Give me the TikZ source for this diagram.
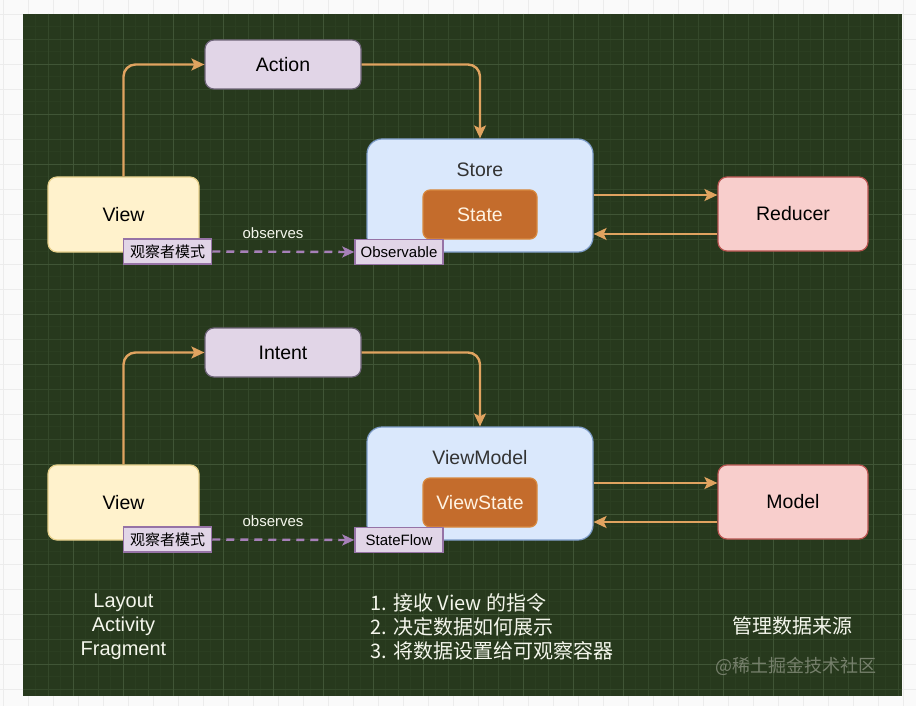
\documentclass[tikz,border=0pt]{standalone}
\usepackage{fontspec}
\setmainfont{Liberation Sans}
\newfontfamily\cjk{Noto Sans CJK SC}
\usepackage{xcolor}
\usepackage{tikz}
\usetikzlibrary{arrows.meta, positioning}

\definecolor{pagebg}{RGB}{250,250,250}
\definecolor{pagegrid}{RGB}{236,236,236}
\definecolor{canvasbg}{RGB}{39,57,29}
\definecolor{gridfine}{RGB}{43,62,33}
\definecolor{gridmid}{RGB}{52,72,42}
\definecolor{gridmajor}{RGB}{64,85,54}
\definecolor{actfill}{HTML}{E1D5E7}
\definecolor{actline}{HTML}{6E6478}
\definecolor{viewfill}{HTML}{FFF2CC}
\definecolor{viewline}{HTML}{E6CF8A}
\definecolor{storefill}{HTML}{DAE8FC}
\definecolor{storeline}{HTML}{7D9CC8}
\definecolor{statefill}{RGB}{196,108,44}
\definecolor{stateline}{RGB}{216,138,64}
\definecolor{statetext}{HTML}{FFF3E2}
\definecolor{srcfill}{HTML}{F8CECC}
\definecolor{srcline}{HTML}{B85450}
\definecolor{tagline}{HTML}{9673A6}
\definecolor{flowc}{RGB}{224,163,96}
\definecolor{watchc}{HTML}{A680B8}
\definecolor{notec}{RGB}{244,246,236}
\definecolor{markc}{RGB}{118,128,108}

\tikzset{
    every node/.style={font=\fontsize{19.5}{23}\selectfont},
    box/.style={rectangle, rounded corners=9pt, line width=1.2pt, inner sep=0pt},
    actionbox/.style={box, fill=actfill, draw=actline, minimum width=156pt, minimum height=49pt},
    viewbox/.style={box, fill=viewfill, draw=viewline, minimum width=151pt, minimum height=75pt},
    storebox/.style={box, fill=storefill, draw=storeline, rounded corners=15pt, minimum width=226pt, minimum height=113pt},
    statebox/.style={box, fill=statefill, draw=stateline, text=statetext, rounded corners=7pt, minimum width=114pt, minimum height=49pt},
    sourcebox/.style={box, fill=srcfill, draw=srcline, minimum width=150pt, minimum height=74pt},
    tagbox/.style={rectangle, fill=actfill, draw=tagline, line width=1.5pt, inner sep=0pt, minimum width=88pt, minimum height=25pt, font=\fontsize{15}{18}\selectfont},
    flow/.style={draw=flowc, line width=2.4pt, -{Stealth[length=13pt, width=12pt, inset=3pt]}},
    watch/.style={draw=watchc, line width=2.4pt, dash pattern=on 8pt off 6pt, -{Stealth[length=12pt, width=11pt, inset=3pt]}},
    watchtext/.style={text=notec, font=\fontsize{15}{18}\selectfont},
    note/.style={text=notec, font=\fontsize{20}{24}\selectfont},
}

\begin{document}
\begin{tikzpicture}[x=1pt, y=-1pt]
    \useasboundingbox (0,0) rectangle (916,706);

    % page with light grid
    \fill[pagebg] (0,0) rectangle (916,706);
    \foreach \gx in {3,28,...,916} \draw[pagegrid, line width=0.8pt] (\gx,0) -- (\gx,706);
    \foreach \gy in {14,39,...,706} \draw[pagegrid, line width=0.8pt] (0,\gy) -- (916,\gy);

    % dark canvas with grid
    \fill[canvasbg] (23,14) rectangle (902,696);
    \foreach \gx in {35.5,48,...,900} \draw[gridfine, line width=0.6pt] (\gx,14) -- (\gx,696);
    \foreach \gy in {26.5,39,...,695} \draw[gridfine, line width=0.6pt] (23,\gy) -- (902,\gy);
    \foreach \gx in {48,98,...,900} \draw[gridmid, line width=0.8pt] (\gx,14) -- (\gx,696);
    \foreach \gy in {39,89,...,695} \draw[gridmid, line width=0.8pt] (23,\gy) -- (902,\gy);
    \foreach \gx in {73,123,...,900} \draw[gridmajor, line width=0.9pt] (\gx,14) -- (\gx,696);
    \foreach \gy in {64,114,...,695} \draw[gridmajor, line width=0.9pt] (23,\gy) -- (902,\gy);

    % Redux: View -> Action -> Store <-> Reducer
    \node[viewbox] (view1) at (123.5,214.5) {View};
    \node[actionbox] (action) at (283,64.5) {Action};
    \node[storebox] (store) at (480,195.5) {};
    \node[text=black!80] (storename) at (480,170) {Store};
    \node[statebox] (state) at (480,214.5) {State};
    \node[sourcebox] (reducer) at (793,214) {Reducer};

    \draw[flow, rounded corners=12pt] (view1.north) |- (action.west);
    \draw[flow, rounded corners=12pt] (action.east) -| (store.north);
    \draw[flow] ([yshift=19pt]reducer.west -| store.east) -- ([yshift=19pt]reducer.west);
    \draw[flow] ([yshift=-20pt]reducer.west) -- ([yshift=-20pt]reducer.west -| store.east);

    \node[tagbox] (pattern1) at (167.5,251.5) {\cjk 观察者模式};
    \node[tagbox] (observable) at (399,252) {Observable};
    \draw[watch] (pattern1.east) -- (observable.west);
    \node[watchtext] (observes1) at (273,233) {observes};

    % MVI: View -> Intent -> ViewModel <-> Model
    \node[viewbox] (view2) at (123.5,502.5) {View};
    \node[actionbox] (intent) at (283,352.5) {Intent};
    \node[storebox] (viewmodel) at (480,483.5) {};
    \node[text=black!80] (vmname) at (480,458) {ViewModel};
    \node[statebox] (viewstate) at (480,502.5) {ViewState};
    \node[sourcebox] (model) at (793,502) {Model};

    \draw[flow, rounded corners=12pt] (view2.north) |- (intent.west);
    \draw[flow, rounded corners=12pt] (intent.east) -| (viewmodel.north);
    \draw[flow] ([yshift=19pt]model.west -| viewmodel.east) -- ([yshift=19pt]model.west);
    \draw[flow] ([yshift=-20pt]model.west) -- ([yshift=-20pt]model.west -| viewmodel.east);

    \node[tagbox] (pattern2) at (167.5,539.5) {\cjk 观察者模式};
    \node[tagbox] (stateflow) at (399,540) {StateFlow};
    \draw[watch] (pattern2.east) -- (stateflow.west);
    \node[watchtext] (observes2) at (273,521) {observes};

    % notes under the columns
    \node[note, align=center] (roles) at (123.5,627) {Layout\\Activity\\Fragment};
    \node[note, align=left, anchor=west, font=\cjk\fontsize{20}{24}\selectfont] (duties) at (367,627)
        {1. 接收 View 的指令\\2. 决定数据如何展示\\3. 将数据设置给可观察容器};
    \node[note, font=\cjk\fontsize{20}{24}\selectfont] (source) at (792.5,626) {管理数据来源};
    \node[text=markc, font=\cjk\fontsize{18}{22}\selectfont] (mark) at (796,666) {@稀土掘金技术社区};
\end{tikzpicture}
\end{document}
